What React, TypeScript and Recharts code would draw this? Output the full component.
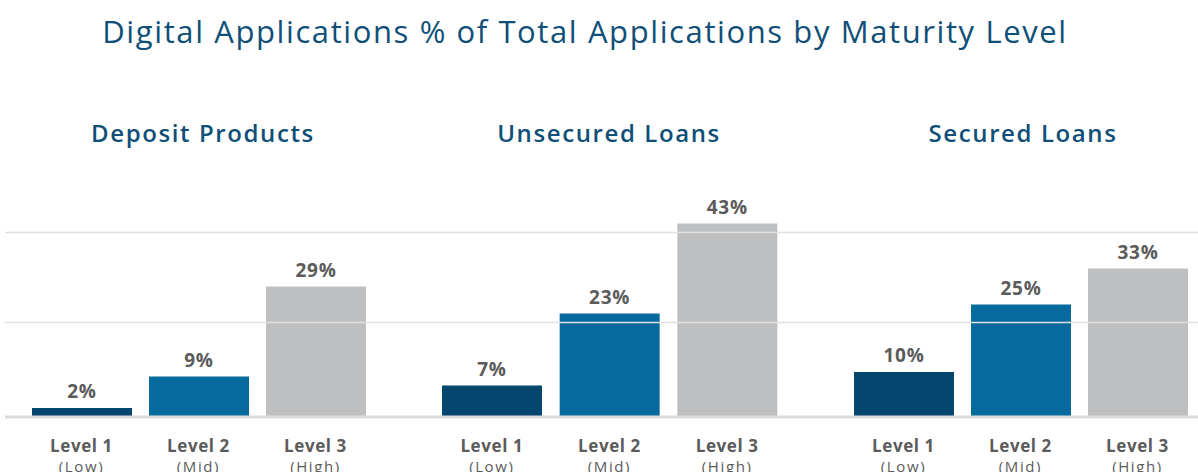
import { Bar, BarChart, Cell, LabelList, ReferenceLine, XAxis, YAxis } from 'recharts'

const panelTitles = ['Deposit Products', 'Unsecured Loans', 'Secured Loans']
const levels = ['Level 1', 'Level 2', 'Level 3']
const levelNotes = ['(Low)', '(Mid)', '(High)']
const depositValues = [2, 9, 29]
const unsecuredValues = [7, 23, 43]
const securedValues = [10, 25, 33]
const gridTicks = [21, 41]
const yMax = 50

const LEVEL_COLORS = ['#05466e', '#066a9e', '#bebfc1']
const TITLE_COLOR = '#0f4f78'
const TEXT_GRAY = '#5b5b5b'
const FONT = '"Open Sans", sans-serif'

// page-level layout of the three side-by-side panels
const panelLayout = [
  { left: 5, width: 400, padL: 18, padR: 31, center: 203 },
  { left: 405, width: 410, padL: 28, padR: 29, center: 609 },
  { left: 815, width: 383, padL: 30, padR: 2, center: 1023 },
]

const panelValues = [depositValues, unsecuredValues, securedValues]

function LevelTick(props: any) {
  const { x, y, payload, index } = props
  return (
    <g>
      <text
        x={x}
        y={y + 35}
        textAnchor="middle"
        fill={TEXT_GRAY}
        fontFamily={FONT}
        fontSize={17}
        fontWeight={700}
        letterSpacing={0.6}
      >
        {payload.value}
      </text>
      <text x={x} y={y + 55} textAnchor="middle" fill={TEXT_GRAY} fontFamily={FONT} fontSize={15} letterSpacing={1.6}>
        {levelNotes[index]}
      </text>
    </g>
  )
}

function Panel({ i }: { i: number }) {
  const lay = panelLayout[i]
  const data = levels.map((level, k) => ({ level, value: panelValues[i][k] }))
  return (
    <div style={{ position: 'absolute', left: lay.left, top: 150 }}>
      <BarChart width={lay.width} height={322} data={data} margin={{ top: 42, right: 0, left: 0, bottom: 0 }}>
        <YAxis hide domain={[0, yMax]} />
        {gridTicks.map((t) => (
          <ReferenceLine key={t} y={t} stroke="#e0e0e0" strokeWidth={1.5} />
        ))}
        <XAxis
          dataKey="level"
          height={55}
          padding={{ left: lay.padL, right: lay.padR }}
          axisLine={{ stroke: '#dcdcdc', strokeWidth: 3 }}
          tickLine={false}
          tickSize={0}
          tickMargin={0}
          interval={0}
          tick={<LevelTick />}
        />
        <Bar dataKey="value" barSize={100} isAnimationActive={false}>
          {data.map((d, k) => (
            <Cell key={d.level} fill={LEVEL_COLORS[k]} />
          ))}
          <LabelList
            dataKey="value"
            position="top"
            offset={10}
            formatter={(v: any) => `${v}%`}
            style={{ fill: TEXT_GRAY, fontFamily: FONT, fontSize: 19, fontWeight: 700, letterSpacing: 0.8 }}
          />
        </Bar>
      </BarChart>
    </div>
  )
}

export default function App() {
  return (
    <div style={{ position: 'relative', width: 1198, height: 472, background: '#fff', overflow: 'hidden', fontFamily: FONT }}>
      <style>{'body{margin:0}'}</style>
      <div
        style={{
          position: 'absolute',
          left: 0,
          width: 1170,
          top: 9,
          textAlign: 'center',
          fontSize: 31,
          letterSpacing: 1.6,
          color: TITLE_COLOR,
          lineHeight: '44px',
        }}
      >
        Digital Applications % of Total Applications by Maturity Level
      </div>
      {panelTitles.map((t, i) => (
        <div
          key={t}
          style={{
            position: 'absolute',
            left: panelLayout[i].center - 200,
            width: 400,
            top: 116,
            textAlign: 'center',
            fontSize: 24,
            fontWeight: 600,
            letterSpacing: 1.6,
            color: TITLE_COLOR,
            lineHeight: '34px',
          }}
        >
          {t}
        </div>
      ))}
      {panelTitles.map((t, i) => (
        <Panel key={t} i={i} />
      ))}
    </div>
  )
}
